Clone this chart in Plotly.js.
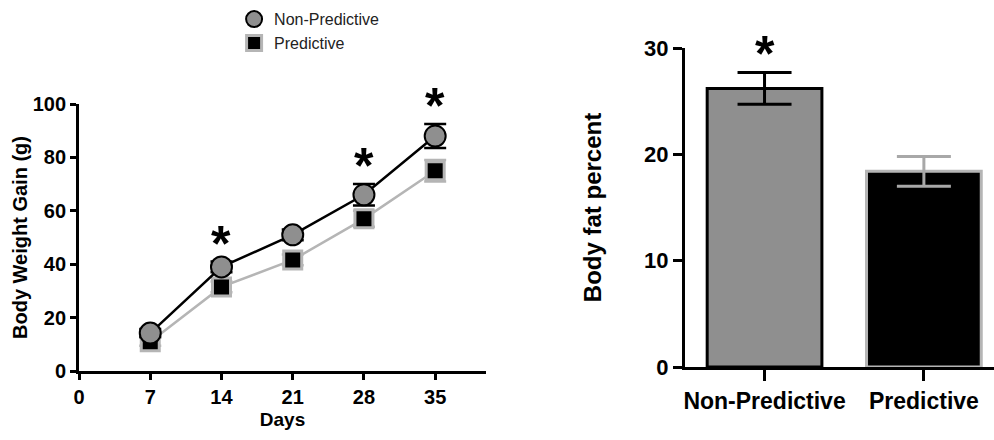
<!DOCTYPE html>
<html>
<head>
<meta charset="utf-8">
<script src="https://cdn.plot.ly/plotly-3.0.1.min.js"></script>
<style>html,body{margin:0;padding:0;background:#fff;}#chart{width:994px;height:440px;}</style>
</head>
<body>
<div id="chart"></div>
<script>
// ---- data ----
const days = [7, 14, 21, 28, 35];
const gainNonPredictive = [14.2, 39, 51, 66, 88];
const errNonPredictive = [1.5, 2, 2, 4, 4.5];
const gainPredictive = [11, 31.5, 41.6, 57, 75];
const errPredictive = [1.5, 2, 2, 3, 4];
const sigDays = [14, 28, 35];
const dayTicks = [0, 7, 14, 21, 28, 35];
const weightTicks = [0, 20, 40, 60, 80, 100];

const groups = ['Non-Predictive', 'Predictive'];
const fatPercent = [26.2, 18.4];
const fatErr = [1.5, 1.4];
const fatSig = [true, false];
const fatTicks = [0, 10, 20, 30];

const FONT = 'Liberation Sans, Arial, Helvetica, sans-serif';
const GRAY = '#8f8f8f';
const LIGHT = '#b5b5b5';

const barFill = [GRAY, '#000'];
const barEdge = ['#000', LIGHT];
const barErrColor = ['#000', '#a8a8a8'];

const traces = [
  {
    x: days, y: gainPredictive, type: 'scatter', mode: 'lines+markers',
    name: 'Predictive', showlegend: false, xaxis: 'x', yaxis: 'y',
    line: {color: LIGHT, width: 2.5},
    marker: {symbol: 'square', size: 18, color: '#000', line: {color: LIGHT, width: 3}},
    error_y: {type: 'data', array: errPredictive, color: LIGHT, thickness: 2.5, width: 11}
  },
  {
    x: days, y: gainNonPredictive, type: 'scatter', mode: 'lines+markers',
    name: 'Non-Predictive', showlegend: false, xaxis: 'x', yaxis: 'y',
    line: {color: '#000', width: 2.5},
    marker: {symbol: 'circle', size: 21, color: GRAY, line: {color: '#000', width: 2}},
    error_y: {type: 'data', array: errNonPredictive, color: '#000', thickness: 2.5, width: 11}
  },
  // legend-only entries
  {
    x: [null], y: [null], type: 'scatter', mode: 'markers', name: 'Non-Predictive',
    xaxis: 'x', yaxis: 'y',
    marker: {symbol: 'circle', size: 16, color: GRAY, line: {color: '#000', width: 2}}
  },
  {
    x: [null], y: [null], type: 'scatter', mode: 'markers', name: 'Predictive',
    xaxis: 'x', yaxis: 'y',
    marker: {symbol: 'square', size: 15, color: '#000', line: {color: LIGHT, width: 3}}
  }
];
groups.forEach((g, i) => {
  traces.push({
    x: [g], y: [fatPercent[i]], type: 'bar', xaxis: 'x2', yaxis: 'y2', showlegend: false,
    width: 0.72,
    marker: {color: barFill[i], line: {color: barEdge[i], width: 3}},
    error_y: {type: 'data', array: [fatErr[i]], color: barErrColor[i], thickness: 3, width: 27}
  });
});

const annotations = [];
sigDays.forEach(d => {
  const i = days.indexOf(d);
  annotations.push({
    xref: 'x', yref: 'y', x: d, y: gainNonPredictive[i] + errNonPredictive[i],
    text: '*', showarrow: false, yanchor: 'middle', yshift: 18,
    font: {family: FONT, size: 50, color: '#000', weight: 'bold'}
  });
});
groups.forEach((g, i) => {
  if (fatSig[i]) {
    annotations.push({
      xref: 'x2', yref: 'y2', x: g, y: fatPercent[i] + fatErr[i],
      text: '*', showarrow: false, yanchor: 'middle', yshift: 18,
      font: {family: FONT, size: 50, color: '#000', weight: 'bold'}
    });
  }
});

const axisCommon = {
  showgrid: false, zeroline: false, showline: true, linecolor: '#000', linewidth: 3,
  ticks: 'outside', tickcolor: '#000', tickwidth: 3, ticklen: 6,
  tickfont: {family: FONT, size: 20, color: '#000', weight: 'bold'},
  fixedrange: true
};

const layout = {
  width: 994, height: 440,
  margin: {l: 0, r: 0, t: 0, b: 0},
  paper_bgcolor: '#fff', plot_bgcolor: 'rgba(0,0,0,0)',
  font: {family: FONT, color: '#000'},
  showlegend: true,
  barmode: 'overlay',
  legend: {
    x: 0.2355, y: 0.995, xanchor: 'left', yanchor: 'top',
    font: {family: FONT, size: 16, color: '#222'},
    bgcolor: 'rgba(0,0,0,0)', tracegroupgap: 0, itemwidth: 30
  },
  xaxis: Object.assign({}, axisCommon, {
    domain: [0.0795, 0.489], range: [0, 40],
    tickmode: 'array', tickvals: dayTicks, ticktext: dayTicks.map(String),
    title: {text: 'Days', standoff: 6, font: {family: FONT, size: 19, color: '#000', weight: 'bold'}}
  }),
  yaxis: Object.assign({}, axisCommon, {
    domain: [0.1568, 0.7636], range: [0, 100],
    tickmode: 'array', tickvals: weightTicks, ticktext: weightTicks.map(String),
    title: {text: 'Body Weight Gain (g)', standoff: 0, font: {family: FONT, size: 20, color: '#000', weight: 'bold'}}
  }),
  xaxis2: Object.assign({}, axisCommon, {
    domain: [0.689, 1.0], range: [-0.5, 1.44], type: 'category',
    anchor: 'y2', ticklen: 11,
    tickfont: {family: FONT, size: 23, color: '#000', weight: 'bold'}
  }),
  // inner half of the category ticks (crossing the axis line, as in the original)
  xaxis3: {
    overlaying: 'x2', anchor: 'y2', domain: [0.689, 1.0], range: [-0.5, 1.44],
    showgrid: false, zeroline: false, showline: false, showticklabels: false,
    ticks: 'inside', ticklen: 11, tickwidth: 3, tickcolor: '#000',
    tickmode: 'array', tickvals: groups.map((g, i) => i), fixedrange: true
  },
  yaxis2: Object.assign({}, axisCommon, {
    domain: [0.1659, 0.8909], range: [0, 30], anchor: 'x2', ticklen: 9,
    tickmode: 'array', tickvals: fatTicks, ticktext: fatTicks.map(String),
    tickfont: {family: FONT, size: 22, color: '#000', weight: 'bold'},
    title: {text: 'Body fat percent', standoff: 36, font: {family: FONT, size: 24, color: '#000', weight: 'bold'}}
  }),
  annotations: annotations
};

Plotly.newPlot('chart', traces, layout, {staticPlot: true, displayModeBar: false});
</script>
</body>
</html>
